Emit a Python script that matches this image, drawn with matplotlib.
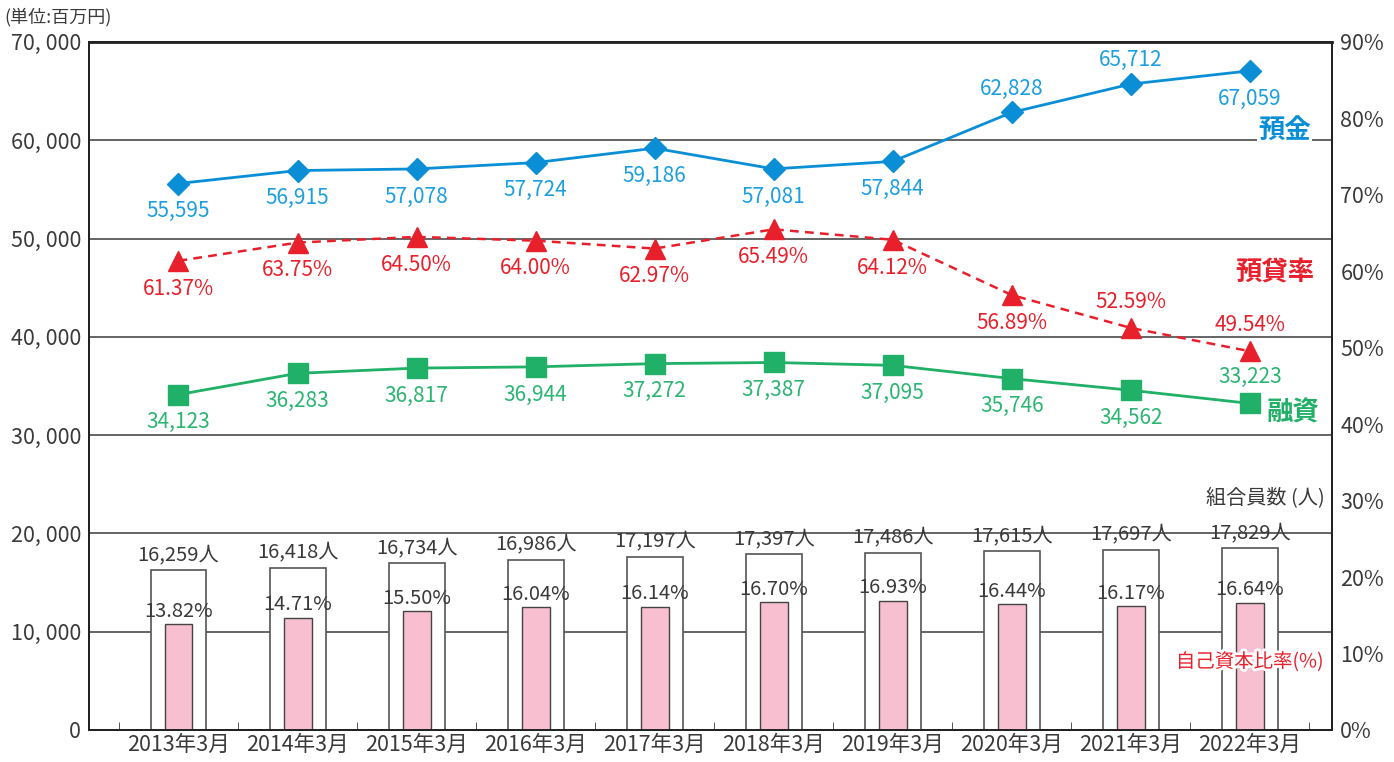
import matplotlib
matplotlib.use("Agg")
import matplotlib.pyplot as plt
import matplotlib.patheffects as pe
import numpy as np

plt.rcParams['font.family'] = ['Noto Sans CJK JP', 'DejaVu Sans']

# data
years = ['2013年3月', '2014年3月', '2015年3月', '2016年3月', '2017年3月',
         '2018年3月', '2019年3月', '2020年3月', '2021年3月', '2022年3月']
deposits = [55595, 56915, 57078, 57724, 59186, 57081, 57844, 62828, 65712, 67059]
loans = [34123, 36283, 36817, 36944, 37272, 37387, 37095, 35746, 34562, 33223]
loan_ratio = [61.37, 63.75, 64.50, 64.00, 62.97, 65.49, 64.12, 56.89, 52.59, 49.54]
members = [16259, 16418, 16734, 16986, 17197, 17397, 17486, 17615, 17697, 17829]
capital_ratio = [13.82, 14.71, 15.50, 16.04, 16.14, 16.70, 16.93, 16.44, 16.17, 16.64]

left_ticks = [0, 10000, 20000, 30000, 40000, 50000, 60000, 70000]
right_ticks = [0, 10, 20, 30, 40, 50, 60, 70, 80, 90]

BLUE = '#0a8fd6'
BLUE_T = '#1c9fdf'
RED = '#e8202b'
GREEN = '#20b067'
GREEN_T = '#2bb572'
GRAY = '#3a3a3a'

x = np.arange(len(years))

fig = plt.figure(figsize=(13.94, 7.62), dpi=100)
ax = fig.add_axes([0.064, 0.042, 0.8915, 0.903])
ax3 = ax.twinx()   # members (hidden scale)
ax2 = ax.twinx()   # percent

ax.set_xlim(-0.75, 9.69)
ax.set_ylim(0, 70000)
ax2.set_ylim(0, 90)
ax3.set_ylim(4840, 53940)
ax3.axis('off')

# grid
for v in left_ticks[1:-1]:
    ax.axhline(v, color=GRAY, lw=1.1, zorder=0)

ax.set_yticks(left_ticks)
ax.set_yticklabels([f"{v:,}".replace(",", ", ") for v in left_ticks], fontsize=15.5, color=GRAY)
ax.tick_params(axis='y', length=0, pad=6)
ax2.set_yticks(right_ticks)
ax2.set_yticklabels([f"{v}%" for v in right_ticks], fontsize=15.5, color=GRAY)
ax2.tick_params(axis='y', length=0, pad=6)

ax.set_xticks(x)
ax.set_xticklabels(years, fontsize=15.5, color=GRAY)
ax.set_xticks(np.arange(-0.5, 9.6, 1), minor=True)
ax.tick_params(axis='x', which='major', length=0, pad=3)
ax.tick_params(axis='x', which='minor', direction='in', length=6, color=GRAY)

for a in (ax, ax2, ax3):
    for s in a.spines.values():
        s.set_color('#222222')
        s.set_linewidth(1.4)
ax.spines['top'].set_linewidth(2)

# members bars
ax3.bar(x, members, width=0.47, facecolor='white', edgecolor='#555555', lw=1.2, zorder=1)
for xi, m in zip(x, members):
    ax3.annotate(f"{m:,}人", (xi, m), xytext=(0, 3), textcoords='offset points',
                 ha='center', va='bottom', fontsize=14.5, color=GRAY)

# capital ratio bars
ax2.bar(x, capital_ratio, width=0.235, facecolor='#f7bfcf', edgecolor='#444444', lw=1.0, zorder=1)
for xi, c in zip(x, capital_ratio):
    ax2.annotate(f"{c:.2f}%", (xi, c), xytext=(0, 2), textcoords='offset points',
                 ha='center', va='bottom', fontsize=14.5, color=GRAY)

# lines
ax.plot(x, deposits, color=BLUE, lw=2, marker='D', markersize=11, zorder=5)
ax.plot(x, loans, color=GREEN, lw=2, marker='s', markersize=14, zorder=5)
ax2.plot(x, loan_ratio, color=RED, lw=1.8, ls=(0, (3.5, 2.5)), marker='^',
         markersize=15, zorder=5)

blue_pos = ['b', 'b', 'b', 'b', 'b', 'b', 'b', 'a', 'a', 'b']
red_pos = ['b', 'b', 'b', 'b', 'b', 'b', 'b', 'b', 'a', 'a']
green_pos = ['b', 'b', 'b', 'b', 'b', 'b', 'b', 'b', 'b', 'a']

for xi, v, p in zip(x, deposits, blue_pos):
    ax.annotate(f"{v:,}", (xi, v), xytext=(0, -20 if p == 'b' else 17), textcoords='offset points',
                ha='center', va='center', fontsize=15, color=BLUE_T)
for xi, v, p in zip(x, loans, green_pos):
    ax.annotate(f"{v:,}", (xi, v), xytext=(0, -20 if p == 'b' else 19), textcoords='offset points',
                ha='center', va='center', fontsize=15, color=GREEN_T)
for xi, v, p in zip(x, loan_ratio, red_pos):
    ax2.annotate(f"{v:.2f}%", (xi, v), xytext=(0, -20 if p == 'b' else 19), textcoords='offset points',
                 ha='center', va='center', fontsize=15, color=RED)

# series names
ax.text(9.29, 60900, '預金', fontsize=19, fontweight='bold', color=BLUE, ha='center', va='center',
        bbox=dict(facecolor='white', edgecolor='none', pad=1), zorder=6)
ax2.text(9.21, 59.9, '預貸率', fontsize=19, fontweight='bold', color=RED, ha='center', va='center')
ax2.text(9.36, 41.5, '融資', fontsize=19, fontweight='bold', color=GREEN, ha='center', va='center')
ax2.text(9.13, 30.2, '組合員数 (人)', fontsize=14.5, color=GRAY, ha='center', va='center')
ax2.text(9.0, 8.9, '自己資本比率(%)', fontsize=14, color=RED, ha='center', va='center', zorder=7,
         path_effects=[pe.withStroke(linewidth=4, foreground='white')])

fig.text(0.003, 0.978, '(単位:百万円)', fontsize=13, color=GRAY, ha='left', va='center')

fig.savefig('out.png', dpi=100)
